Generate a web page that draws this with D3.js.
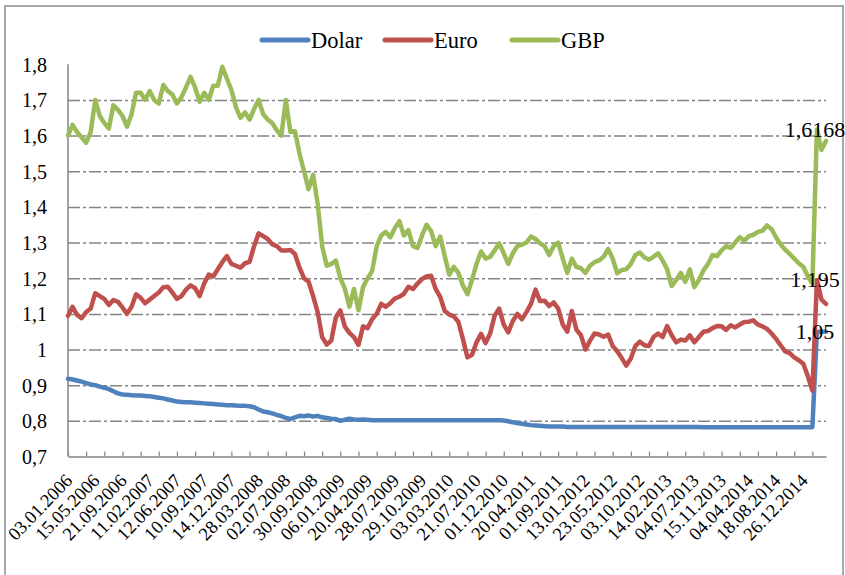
<!DOCTYPE html>
<html>
<head>
<meta charset="utf-8">
<script src="https://cdn.jsdelivr.net/npm/d3@7"></script>
<style>
  html, body { margin: 0; padding: 0; background: #fff; }
  svg { display: block; }
  text { font-family: "Liberation Serif", "Times New Roman", serif; fill: #000; }
</style>
</head>
<body>
<svg id="chart" width="845" height="575"></svg>
<script>
// Exchange rates 2006-2015, one sample every 15 trading days
const seriesNames = ["Dolar", "Euro", "GBP"];

const dateLabels = [
  "03.01.2006","15.05.2006","21.09.2006","11.02.2007","12.06.2007","10.09.2007","14.12.2007",
  "28.03.2008","02.07.2008","30.09.2008","06.01.2009","20.04.2009","28.07.2009","29.10.2009",
  "03.03.2010","21.07.2010","01.12.2010","20.04.2011","01.09.2011","13.01.2012","23.05.2012",
  "03.10.2012","14.02.2013","04.07.2013","15.11.2013","04.04.2014","18.08.2014","26.12.2014"
];

const yTickValues = [0.7, 0.8, 0.9, 1.0, 1.1, 1.2, 1.3, 1.4, 1.5, 1.6, 1.7, 1.8];

const dolar = [
  0.918,0.916,0.913,0.910,0.906,0.902,0.900,0.896,0.893,0.889,
  0.883,0.877,0.874,0.873,0.872,0.871,0.871,0.870,0.869,0.867,
  0.865,0.863,0.860,0.857,0.854,0.853,0.852,0.852,0.851,0.850,
  0.849,0.848,0.847,0.846,0.845,0.844,0.844,0.843,0.842,0.842,
  0.841,0.838,0.832,0.826,0.824,0.821,0.817,0.813,0.808,0.805,
  0.810,0.814,0.813,0.815,0.812,0.814,0.810,0.808,0.806,0.805,
  0.800,0.803,0.806,0.804,0.803,0.804,0.803,0.802,0.802,0.802,
  0.802,0.802,0.802,0.802,0.802,0.802,0.802,0.802,0.802,0.802,
  0.802,0.802,0.802,0.802,0.802,0.802,0.802,0.802,0.802,0.802,
  0.802,0.802,0.802,0.802,0.802,0.802,0.801,0.799,0.796,0.794,
  0.792,0.790,0.788,0.787,0.786,0.785,0.784,0.784,0.784,0.784,
  0.783,0.783,0.783,0.783,0.783,0.783,0.783,0.783,0.783,0.783,
  0.783,0.783,0.783,0.783,0.783,0.783,0.783,0.783,0.783,0.783,
  0.783,0.783,0.783,0.783,0.783,0.783,0.783,0.783,0.783,0.783,
  0.782,0.782,0.782,0.782,0.782,0.782,0.782,0.782,0.782,0.782,
  0.782,0.782,0.782,0.782,0.782,0.782,0.782,0.782,0.782,0.782,
  0.782,0.782,0.782,0.782,0.782,1.05,1.05,1.05
];

const euro = [
  1.095,1.120,1.097,1.088,1.105,1.115,1.158,1.150,1.142,1.125,
  1.139,1.134,1.118,1.100,1.120,1.155,1.145,1.130,1.140,1.150,
  1.160,1.175,1.176,1.160,1.142,1.150,1.168,1.180,1.172,1.150,
  1.185,1.210,1.205,1.225,1.245,1.262,1.240,1.235,1.230,1.242,
  1.246,1.290,1.326,1.318,1.310,1.295,1.290,1.278,1.278,1.279,
  1.268,1.230,1.200,1.190,1.150,1.105,1.035,1.014,1.025,1.090,
  1.110,1.064,1.047,1.035,1.013,1.065,1.060,1.085,1.100,1.128,
  1.120,1.130,1.143,1.148,1.156,1.176,1.170,1.185,1.198,1.205,
  1.207,1.170,1.148,1.108,1.098,1.093,1.078,1.030,0.978,0.985,
  1.020,1.044,1.018,1.045,1.095,1.115,1.070,1.048,1.080,1.100,
  1.085,1.105,1.128,1.168,1.136,1.137,1.122,1.132,1.115,1.070,
  1.050,1.108,1.056,1.040,1.000,1.025,1.045,1.042,1.036,1.042,
  1.010,0.995,0.976,0.955,0.975,1.010,1.022,1.012,1.010,1.035,
  1.045,1.035,1.066,1.040,1.020,1.028,1.025,1.040,1.020,1.035,
  1.050,1.052,1.060,1.066,1.065,1.055,1.068,1.062,1.070,1.077,
  1.078,1.082,1.070,1.065,1.058,1.045,1.030,1.012,0.995,0.990,
  0.978,0.970,0.960,0.925,0.885,1.195,1.140,1.128
];

const gbp = [
  1.600,1.630,1.610,1.595,1.580,1.610,1.700,1.655,1.635,1.620,
  1.685,1.672,1.655,1.625,1.660,1.720,1.720,1.700,1.725,1.700,
  1.690,1.742,1.725,1.715,1.690,1.708,1.735,1.765,1.735,1.695,
  1.720,1.700,1.740,1.740,1.793,1.760,1.728,1.680,1.650,1.665,
  1.645,1.675,1.700,1.660,1.645,1.635,1.615,1.600,1.700,1.610,
  1.612,1.550,1.500,1.450,1.490,1.410,1.290,1.235,1.240,1.250,
  1.200,1.170,1.120,1.170,1.110,1.175,1.200,1.220,1.289,1.320,
  1.330,1.315,1.340,1.360,1.320,1.335,1.290,1.285,1.320,1.350,
  1.332,1.290,1.317,1.262,1.210,1.232,1.215,1.180,1.155,1.195,
  1.240,1.275,1.255,1.260,1.278,1.298,1.270,1.240,1.270,1.290,
  1.294,1.300,1.317,1.310,1.298,1.290,1.265,1.290,1.300,1.255,
  1.215,1.255,1.232,1.228,1.215,1.235,1.245,1.250,1.260,1.282,
  1.255,1.214,1.223,1.225,1.240,1.265,1.272,1.258,1.252,1.260,
  1.270,1.250,1.225,1.178,1.195,1.215,1.190,1.225,1.175,1.195,
  1.222,1.240,1.265,1.262,1.278,1.290,1.285,1.300,1.315,1.305,
  1.318,1.322,1.330,1.333,1.348,1.338,1.315,1.295,1.280,1.268,
  1.255,1.242,1.232,1.205,1.185,1.6168,1.560,1.585
];

// Category axis: trading-day index
const dayStep = 15;          // days between samples
const tickEvery = 60;        // days between tick marks
const labelEvery = 90;       // days between date labels
const totalDays = 2505;

const colors = ["#4F81BD", "#C0504D", "#9BBB59"];
const series = [dolar, euro, gbp];

const svg = d3.select("#chart");
const plot = { left: 68, right: 826, top: 64.3, bottom: 456.5 };
const serif = '"Liberation Serif", "Times New Roman", serif';

// chart-area frame
svg.append("rect")
  .attr("x", 5).attr("y", 6)
  .attr("width", 838).attr("height", 600)
  .attr("fill", "#fff")
  .attr("stroke", "#8c8c8c").attr("stroke-width", 1.5);

const x = d3.scaleLinear().domain([0, totalDays]).range([plot.left, plot.right]);
const y = d3.scaleLinear().domain([0.7, 1.8]).range([plot.bottom, plot.top]);

const fmtComma = v => String(Math.round(v * 10000) / 10000).replace(".", ",");

// horizontal gridlines
const grid = svg.append("g")
  .attr("transform", `translate(${plot.left},0)`)
  .call(d3.axisLeft(y)
    .tickValues(yTickValues.filter(v => v > 0.75 && v < 1.75))
    .tickSize(-(plot.right - plot.left))
    .tickFormat(""));
grid.select(".domain").remove();
grid.selectAll(".tick line")
  .attr("stroke", "#858585")
  .attr("stroke-width", 1.5)
  .attr("stroke-dasharray", "12,3,3,3");

// y axis
const yAxis = svg.append("g")
  .attr("transform", `translate(${plot.left},0)`)
  .call(d3.axisLeft(y)
    .tickValues(yTickValues)
    .tickSize(0)
    .tickPadding(21)
    .tickFormat(fmtComma));
yAxis.select(".domain")
  .attr("stroke", "#858585").attr("stroke-width", 1.5)
  .attr("d", `M0,${plot.top}V${plot.bottom}`);
yAxis.selectAll("text")
  .attr("font-size", 20)
  .attr("dy", "0.34em")
  .style("font-family", serif);

// x axis: tick marks pointing into the plot
const tickDays = d3.range(0, totalDays + 1, tickEvery);
const xAxis = svg.append("g")
  .attr("transform", `translate(0,${plot.bottom})`)
  .call(d3.axisBottom(x)
    .tickValues(tickDays)
    .tickSize(-5)
    .tickSizeOuter(0)
    .tickFormat(""));
xAxis.select(".domain").attr("stroke", "#858585").attr("stroke-width", 1.5);
xAxis.selectAll(".tick line").attr("stroke", "#858585").attr("stroke-width", 1.2);

// rotated date labels
const labelDays = dateLabels.map((d, i) => i * labelEvery);
const xLabels = svg.append("g")
  .attr("transform", `translate(0,${plot.bottom})`)
  .call(d3.axisBottom(x)
    .tickValues(labelDays)
    .tickSize(0)
    .tickFormat((d, i) => dateLabels[i]));
xLabels.select(".domain").remove();
xLabels.selectAll("text")
  .attr("font-size", 18.5)
  .attr("text-anchor", "end")
  .attr("y", 0).attr("dy", 0)
  .attr("transform", "translate(5,25) rotate(-46)")
  .style("font-family", serif);

// series lines
const line = d3.line()
  .x((d, i) => x(i * dayStep))
  .y(d => y(d));

svg.append("g").selectAll("path")
  .data(series)
  .join("path")
  .attr("d", line)
  .attr("fill", "none")
  .attr("stroke", (d, i) => colors[i])
  .attr("stroke-width", 4.5)
  .attr("stroke-linejoin", "round")
  .attr("stroke-linecap", "round");

// value labels on the first sample after the jump
const jumpIndex = 165;
svg.append("g").selectAll("text")
  .data([gbp, euro, dolar])
  .join("text")
  .attr("x", x(jumpIndex * dayStep) - 2)
  .attr("y", d => y(d[jumpIndex]))
  .attr("dy", "0.34em")
  .attr("text-anchor", "middle")
  .attr("font-size", 22)
  .text(d => fmtComma(d[jumpIndex]));

// legend
const legendX = [262, 385, 512];
const legend = svg.append("g").selectAll("g")
  .data(seriesNames)
  .join("g")
  .attr("transform", (d, i) => `translate(${legendX[i]},40)`);
legend.append("line")
  .attr("x1", 0).attr("x2", 46)
  .attr("stroke", (d, i) => colors[i])
  .attr("stroke-width", 5)
  .attr("stroke-linecap", "round");
legend.append("text")
  .attr("x", 49)
  .attr("dy", "0.34em")
  .attr("font-size", 22.5)
  .text(d => d);
</script>
</body>
</html>
